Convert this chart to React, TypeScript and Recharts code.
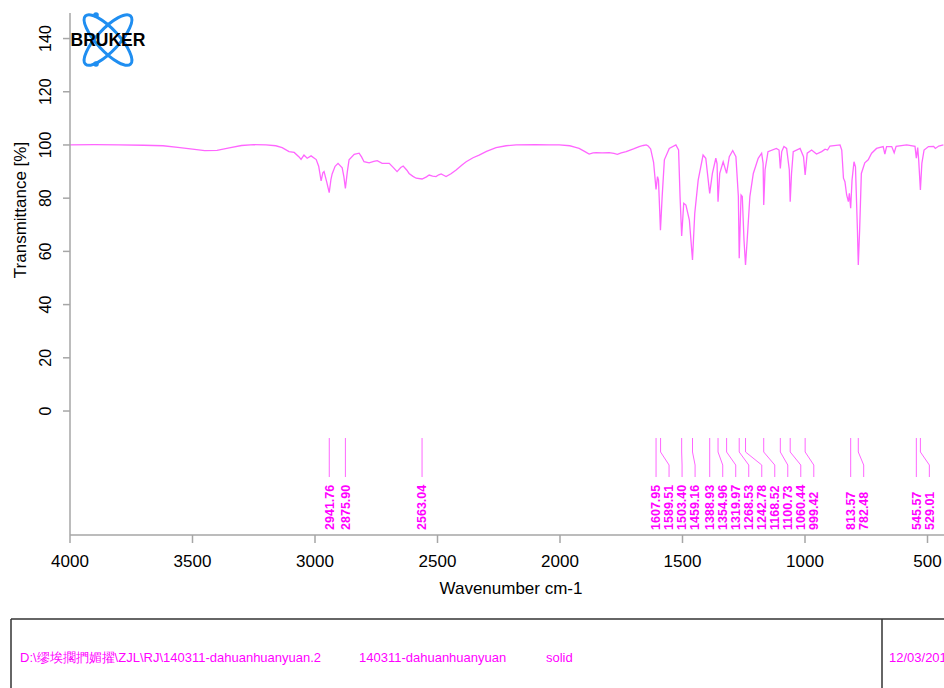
import React from 'react';
import { ComposedChart, Line, Scatter, XAxis, YAxis, ReferenceLine } from 'recharts';

// IR spectrum (cm-1 descending)
const wavenumbers = [
  4000, 3900, 3800, 3700, 3620, 3560, 3500, 3450, 3400, 3350, 3300, 3250, 3200, 3160, 3134, 3106, 3085, 3065, 3057, 3045,
  3032, 3016, 2995, 2985, 2975, 2968, 2963, 2952, 2942, 2935, 2930, 2918, 2906, 2889, 2882, 2876, 2868, 2861, 2840, 2820,
  2810, 2800, 2779, 2760, 2746, 2726, 2697, 2680, 2665, 2650, 2640, 2625, 2616, 2600, 2587, 2563, 2545, 2534, 2520, 2506,
  2495, 2485, 2475, 2465, 2445, 2424, 2400, 2383, 2355, 2330, 2300, 2261, 2220, 2179, 2100, 2044, 2003, 1960, 1940, 1922,
  1900, 1881, 1865, 1852, 1828, 1799, 1780, 1766, 1750, 1730, 1700, 1677, 1660, 1648, 1640, 1630, 1618, 1608, 1602, 1598,
  1590, 1583, 1574, 1554, 1527, 1516, 1510, 1503.4, 1495, 1486, 1472, 1459.2, 1450, 1436, 1416, 1405, 1389, 1378, 1364, 1359,
  1355, 1348, 1334, 1320, 1309, 1295, 1282, 1272, 1268.5, 1261, 1256, 1249, 1242.8, 1236, 1225, 1211, 1191, 1177, 1171, 1168.5,
  1163, 1151, 1117, 1106, 1100.7, 1095, 1086, 1075, 1064, 1060.4, 1055, 1048, 1020, 1006, 999.4, 991, 973, 953, 932, 918,
  908, 898, 857, 850, 843, 837, 830, 823, 819, 813.6, 808, 800, 794, 786, 782.5, 777, 770, 756, 742, 728,
  708, 681, 674, 667, 646, 636, 628, 585, 551, 545.6, 540, 536, 529, 523, 514, 496, 475, 468, 454, 435,
];
const transmittance = [
  100, 100.1, 100, 99.9, 99.7, 99.1, 98.4, 97.9, 98, 98.9, 99.8, 100.1, 100, 99.7, 99.0, 97.5, 97.2, 95.5, 94.6, 96.2,
  95.0, 95.9, 94.5, 92, 86.5, 89.5, 90.0, 86, 82.1, 87, 89.1, 92, 93.1, 91.4, 88, 83.7, 90, 94.4, 96.5, 96.9,
  95.5, 93.7, 93.3, 93.8, 94.1, 93.1, 93.1, 91.5, 90.0, 91.5, 92.1, 90.5, 89.3, 88.2, 87.5, 87.2, 88, 88.7, 88.3, 88.1,
  88.8, 89.1, 88.6, 88.1, 89.2, 90.6, 92.5, 93.7, 95.2, 96.2, 97.6, 99.0, 99.7, 100, 100.1, 100, 100, 99.7, 99.2, 98.7,
  97.6, 96.6, 97, 97.1, 97.0, 97.1, 96.8, 96.5, 97, 97.5, 98.5, 99.4, 99.8, 100, 99.6, 98.5, 93.5, 83.3, 88.1, 86.8,
  68.0, 80.6, 94.4, 98.7, 100, 98.1, 80.6, 65.8, 78.1, 77.4, 71.8, 56.8, 74.3, 86.8, 96.2, 95, 81.8, 89.3, 95, 93,
  78.7, 89.3, 93.7, 89.3, 95.6, 97.9, 95.6, 80.6, 57.4, 81.2, 80.6, 64.3, 54.9, 64.3, 80.6, 89.3, 95, 96.9, 93.1, 77.4,
  90.6, 97.5, 98.7, 98.1, 91.2, 97.5, 99.4, 98.7, 90.6, 78.7, 89.3, 97.5, 98.7, 95.6, 88.7, 96.9, 98.1, 96.6, 97.5, 98.4,
  98.1, 99.6, 100, 98.1, 87.5, 86.2, 81.2, 78.7, 81.8, 76.2, 86.8, 93.7, 91.8, 68, 54.9, 68, 89.3, 93.3, 94.4, 96.9,
  98.7, 99.4, 96.6, 99.4, 99.4, 97.1, 99.5, 100, 99.5, 95, 99, 94.4, 83.1, 93.1, 98.1, 99.4, 99.5, 98.7, 99.6, 100,
];

const peaks = [
  2941.76, 2875.9, 2563.04, 1607.95, 1589.51, 1503.4, 1459.16, 1388.93, 1354.96, 1319.97,
  1268.53, 1242.78, 1168.52, 1100.73, 1060.44, 999.42, 813.57, 782.48, 545.57, 529.01,
];

const xTicks = [4000, 3500, 3000, 2500, 2000, 1500, 1000, 500];
const yTicks = [0, 20, 40, 60, 80, 100, 120, 140];

const FONT = '"Liberation Sans", Arial, Helvetica, sans-serif';
const AXIS = '#a6a6a6';
const PINK = '#ff66ff';
const MAGENTA = '#ff00ff';

// leader line levels / label baseline, in % transmittance units
const LEAD_TOP = -10.15;
const LEAD_BEND1 = -15.4;
const LEAD_BEND2 = -20.3;
const LEAD_BOTTOM = -24.8;
const LABEL_Y = -44.7;
const LABEL_GAP = 53.1; // cm-1 between neighbouring labels

const spectrum = wavenumbers.map((wn, i) => ({ wn, t: transmittance[i] }));

const labelWn: number[] = [];
peaks.forEach((p, i) => {
  labelWn.push(i === 0 ? p : Math.min(p, labelWn[i - 1] - LABEL_GAP));
});
const labelData = peaks.map((p, i) => ({ wn: labelWn[i], t: LABEL_Y, text: p.toFixed(2) }));

const YTick = (props: any) => {
  const { x, y, payload } = props;
  const cx = x - 16;
  return (
    <text x={cx} y={y} transform={`rotate(-90 ${cx} ${y})`} textAnchor="middle" dy="0.35em"
      fill="#000" fontSize={16} fontFamily={FONT}>
      {payload.value}
    </text>
  );
};

const PeakLabel = (props: any) => {
  const { cx, cy, payload } = props;
  return (
    <text x={cx} y={cy} transform={`rotate(-90 ${cx} ${cy})`} dy="0.35em"
      fill={MAGENTA} fontSize={12.5} fontWeight="bold" fontFamily={FONT}>
      {payload.text}
    </text>
  );
};

function Overlay() {
  return (
    <svg width={944} height={688} style={{ position: 'absolute', left: 0, top: 0, pointerEvents: 'none' }}>
      {/* logo */}
      <g fill="none" stroke="#1f8ef1" strokeWidth={3}>
        <ellipse cx={108} cy={40} rx={33} ry={11} transform="rotate(47 108 40)" />
        <ellipse cx={108} cy={40} rx={33} ry={11} transform="rotate(-47 108 40)" />
      </g>
      <circle cx={96} cy={15} r={2.8} fill="#1f8ef1" />
      <circle cx={96} cy={64} r={2.8} fill="#1f8ef1" />
      <text x={108} y={46} textAnchor="middle" fontSize={17.5} fontWeight="bold" fontFamily={FONT} fill="#000">BRUKER</text>

      {/* axis titles */}
      <text x={20} y={210} transform="rotate(-90 20 210)" textAnchor="middle" dy="0.35em"
        fontSize={17} fontFamily={FONT} fill="#000">Transmittance [%]</text>
      <text x={511} y={594} textAnchor="middle" fontSize={17} fontFamily={FONT} fill="#000">Wavenumber cm-1</text>

      {/* footer */}
      <line x1={11} y1={619} x2={944} y2={619} stroke="#333" strokeWidth={1.5} />
      <line x1={11} y1={619} x2={11} y2={688} stroke="#333" strokeWidth={1.5} />
      <line x1={882} y1={619} x2={882} y2={688} stroke="#333" strokeWidth={1.5} />
      <g fontSize={13} fontFamily={FONT} fill={MAGENTA}>
        <text x={20} y={662}>D:\缪埃擱捫媚擢\ZJL\RJ\140311-dahuanhuanyuan.2</text>
        <text x={359} y={662}>140311-dahuanhuanyuan</text>
        <text x={546} y={662}>solid</text>
        <text x={889} y={662}>12/03/2014</text>
      </g>
    </svg>
  );
}

export default function App() {
  return (
    <div style={{ position: 'fixed', left: 0, top: 0, width: 944, height: 688, overflow: 'hidden', background: '#fff' }}>
      <ComposedChart width={952} height={600} margin={{ top: 13, right: 0, bottom: 0, left: 0 }}>
        <XAxis dataKey="wn" type="number" domain={[400, 4000]} reversed allowDataOverflow ticks={xTicks}
          height={65} tickSize={8} tickMargin={12} stroke={AXIS} strokeWidth={1.5}
          tick={{ fill: '#000', fontSize: 17, fontFamily: FONT }} />
        <XAxis xAxisId="top" orientation="top" type="number" domain={[400, 4000]} reversed allowDataOverflow
          height={0} tick={false} tickLine={false} stroke={AXIS} strokeWidth={1.5} />
        <YAxis type="number" domain={[-46.6, 149.6]} allowDataOverflow ticks={yTicks} width={70}
          tickSize={7} stroke={AXIS} strokeWidth={1.5} tick={<YTick />} />
        {peaks.map((p, i) => (
          <ReferenceLine key={`a${i}`} segment={[{ x: p, y: LEAD_TOP }, { x: p, y: LEAD_BEND1 }]} stroke={PINK} strokeWidth={1} />
        ))}
        {peaks.map((p, i) => (
          <ReferenceLine key={`b${i}`} segment={[{ x: p, y: LEAD_BEND1 }, { x: labelWn[i], y: LEAD_BEND2 }]} stroke={PINK} strokeWidth={1} />
        ))}
        {peaks.map((p, i) => (
          <ReferenceLine key={`c${i}`} segment={[{ x: labelWn[i], y: LEAD_BEND2 }, { x: labelWn[i], y: LEAD_BOTTOM }]} stroke={PINK} strokeWidth={1} />
        ))}
        <Line data={spectrum} dataKey="t" type="linear" dot={false} stroke={PINK} strokeWidth={1.3} isAnimationActive={false} />
        <Scatter data={labelData} dataKey="t" shape={<PeakLabel />} isAnimationActive={false} />
      </ComposedChart>
      <Overlay />
    </div>
  );
}
